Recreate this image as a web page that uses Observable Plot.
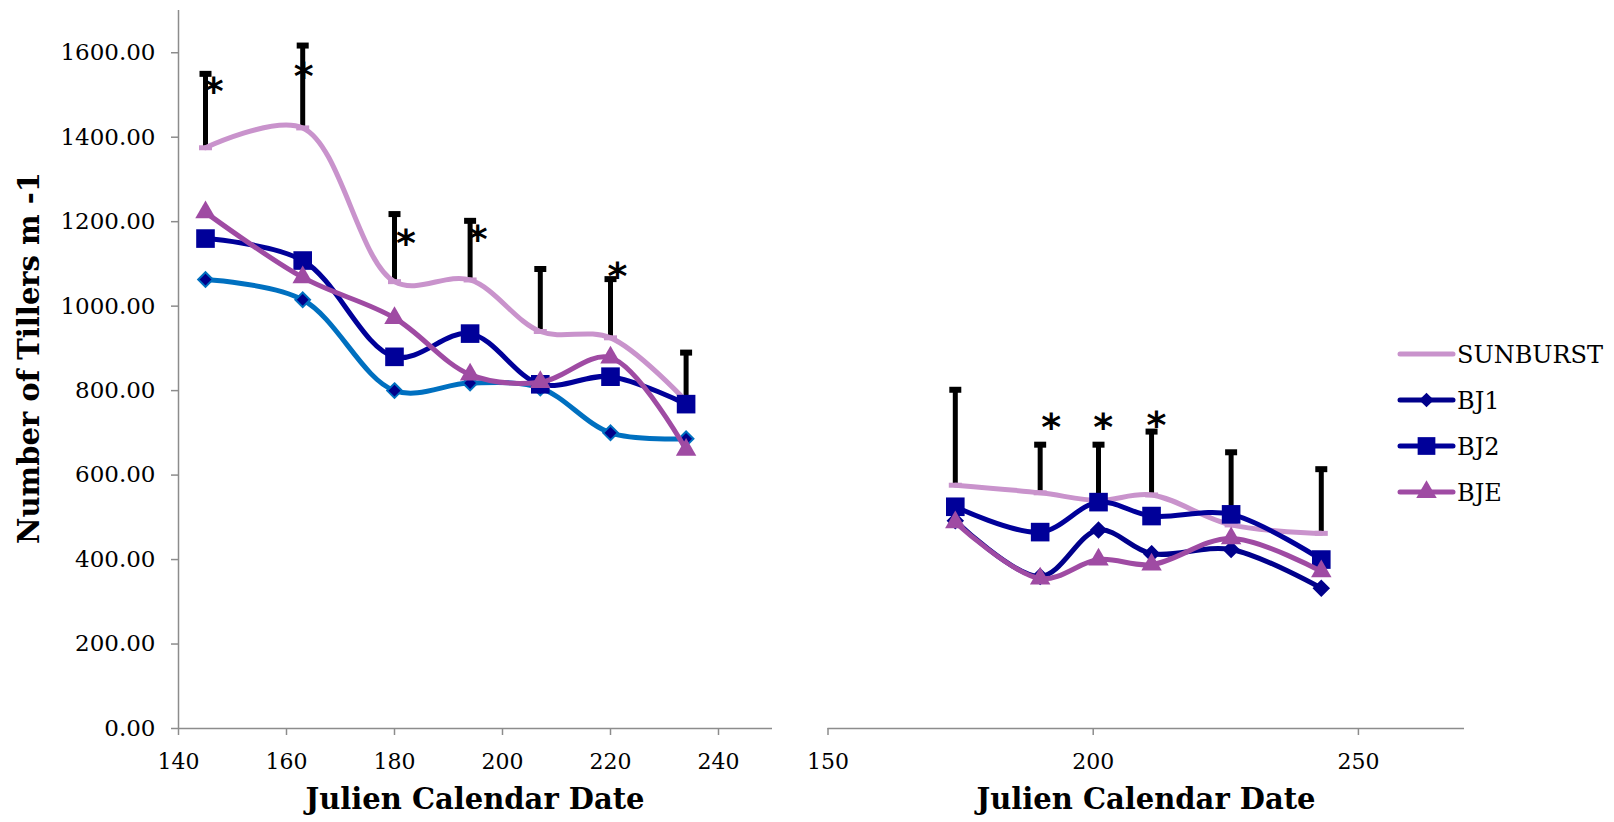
<!DOCTYPE html>
<html>
<head>
<meta charset="utf-8">
<script src="https://cdn.jsdelivr.net/npm/d3@7"></script>
<script src="https://cdn.jsdelivr.net/npm/@observablehq/plot@0.6"></script>
<style>
  html, body { margin: 0; padding: 0; background: #fff; }
  #chart { position: relative; width: 1614px; height: 822px; font-family: "DejaVu Serif", serif; color: #000; }
  #left, #right, #legend { position: absolute; top: 0; }
  #left { left: 0; }
  #right { left: 790px; }
  .xtitle { position: absolute; top: 785px; font-weight: bold; font-size: 29px; line-height: 29px; white-space: nowrap; transform: translateX(-50%); }
  .ytitle { position: absolute; left: 29px; top: 358px; font-weight: bold; font-size: 29px; line-height: 29px; white-space: nowrap; transform: translate(-50%, -50%) rotate(-90deg); }
</style>
</head>
<body>
<div id="chart">
  <div id="left"></div>
  <div id="right"></div>
  <div class="ytitle">Number of Tillers m -1</div>
  <div class="xtitle" style="left:475px">Julien Calendar Date</div>
  <div class="xtitle" style="left:1146px">Julien Calendar Date</div>
  <svg id="legend" width="224" height="180" style="left:1390px;top:330px"></svg>
</div>
<script>
// ---- First sampling period ----
const datesA = [145, 163, 180, 194, 207, 220, 234];
const sunburstA = [1375, 1422, 1058, 1062, 940, 925, 775];
const sunburstErrTopA = [1550, 1617, 1218, 1202, 1088, 1064, 890];
const bj1A = [1063, 1015, 800, 818, 806, 700, 686];
const bj2A = [1160, 1108, 880, 935, 815, 833, 768];
const bjeA = [1222, 1068, 972, 838, 820, 878, 660];
// significance markers (date, height) for the first period
const starDatesA = [146.5, 163.2, 182.1, 195.4, 221.3];
const starHeightsA = [1530, 1566, 1172, 1180, 1092];

// ---- Second sampling period ----
const datesB = [174, 190, 201, 211, 226, 243];
const sunburstB = [576, 558, 540, 553, 482, 462];
const sunburstErrTopB = [802, 672, 672, 703, 654, 614];
const bj1B = [492, 360, 470, 414, 424, 332];
const bj2B = [525, 465, 536, 503, 507, 400];
const bjeB = [488, 355, 400, 388, 450, 372];
const starDatesB = [192.1, 201.9, 211.9];
const starHeightsB = [736, 736, 741];

// ---- Axis ticks ----
const yTicks = [0, 200, 400, 600, 800, 1000, 1200, 1400, 1600];
const xTicksA = [140, 160, 180, 200, 220, 240];
const xTicksB = [150, 200, 250];

const seriesNames = ["SUNBURST", "BJ1", "BJ2", "BJE"];

const colors = {
  SUNBURST: "#c993cc",
  BJ1: "#0070c0",
  BJ1dark: "#00008b",
  BJ2: "#000099",
  BJE: "#9f4ba3",
  axis: "#8c8c8c"
};

// flat bar-shaped symbol (used for caps and dash markers)
const barSymbol = (w, h) => ({ draw(ctx) { ctx.rect(-w / 2, -h / 2, w, h); } });

function panel({dates, sun, errTop, bj1, bj2, bje, starX, starY, xDomain, xTicks, width, marginLeft, marginRight, showY, bj1Line}) {
  const marks = [];
  if (showY) {
    marks.push(Plot.axisY({ticks: yTicks, tickFormat: d3.format(".2f"), tickSize: 7, tickPadding: 16,
      stroke: colors.axis, strokeWidth: 1.5, fill: "#000", fontSize: 23, label: null}));
    marks.push(Plot.ruleX([xDomain[0]], {stroke: colors.axis, strokeWidth: 1.5}));
  }
  marks.push(Plot.axisX({ticks: xTicks, tickSize: 7, tickPadding: 18, stroke: colors.axis, strokeWidth: 1.5,
    fill: "#000", fontSize: 22, label: null}));
  marks.push(Plot.ruleY([0], {stroke: colors.axis, strokeWidth: 1.5}));

  // SUNBURST error bars (upper only, capped)
  marks.push(Plot.ruleX(dates, {x: d => d, y1: (d, i) => sun[i], y2: (d, i) => errTop[i], stroke: "#000", strokeWidth: 5}));
  marks.push(Plot.dot(dates, {x: d => d, y: (d, i) => errTop[i], symbol: barSymbol(12, 6), r: 5, fill: "#000"}));

  // SUNBURST
  marks.push(Plot.line(dates, {x: d => d, y: (d, i) => sun[i], curve: "catmull-rom", stroke: colors.SUNBURST, strokeWidth: 5, strokeLinecap: "round"}));
  marks.push(Plot.dot(dates, {x: d => d, y: (d, i) => sun[i], symbol: barSymbol(13, 5), r: 5, fill: colors.SUNBURST}));

  // BJ1
  marks.push(Plot.line(dates, {x: d => d, y: (d, i) => bj1[i], curve: "catmull-rom", stroke: bj1Line, strokeWidth: 5, strokeLinecap: "round"}));
  marks.push(Plot.dot(dates, {x: d => d, y: (d, i) => bj1[i], symbol: "diamond2", r: 6.6, fill: colors.BJ1dark,
    stroke: bj1Line, strokeWidth: 2}));

  // BJ2
  marks.push(Plot.line(dates, {x: d => d, y: (d, i) => bj2[i], curve: "catmull-rom", stroke: colors.BJ2, strokeWidth: 5, strokeLinecap: "round"}));
  marks.push(Plot.dot(dates, {x: d => d, y: (d, i) => bj2[i], symbol: "square", r: 10.5, fill: colors.BJ2, stroke: "none"}));

  // BJE
  marks.push(Plot.line(dates, {x: d => d, y: (d, i) => bje[i], curve: "catmull-rom", stroke: colors.BJE, strokeWidth: 5, strokeLinecap: "round"}));
  marks.push(Plot.dot(dates, {x: d => d, y: (d, i) => bje[i], symbol: "triangle", r: 7.6, fill: colors.BJE, stroke: "none"}));

  // significance asterisks
  marks.push(Plot.text(starX, {x: d => d, y: (d, i) => starY[i], text: () => "*", fontSize: 38, fontWeight: "bold",
    lineAnchor: "middle", dy: 10, fill: "#000", fontFamily: "DejaVu Sans"}));

  return Plot.plot({
    width, height: 822,
    marginLeft, marginRight, marginTop: 10, marginBottom: 94,
    x: {domain: xDomain},
    y: {domain: [0, 1700], axis: showY ? undefined : null},
    style: {fontFamily: "DejaVu Serif", fontSize: "22px", color: "#000", background: "transparent", overflow: "visible"},
    marks
  });
}

document.getElementById("left").appendChild(panel({
  dates: datesA, sun: sunburstA, errTop: sunburstErrTopA, bj1: bj1A, bj2: bj2A, bje: bjeA,
  starX: starDatesA, starY: starHeightsA,
  xDomain: [140, 250], xTicks: xTicksA, width: 790, marginLeft: 178, marginRight: 18, showY: true,
  bj1Line: colors.BJ1
}));

document.getElementById("right").appendChild(panel({
  dates: datesB, sun: sunburstB, errTop: sunburstErrTopB, bj1: bj1B, bj2: bj2B, bje: bjeB,
  starX: starDatesB, starY: starHeightsB,
  xDomain: [150, 270], xTicks: xTicksB, width: 700, marginLeft: 37.5, marginRight: 26, showY: false,
  bj1Line: colors.BJ1dark
}));

// ---- Legend ----
const legend = d3.select("#legend");
const legendStyle = {
  SUNBURST: {color: colors.SUNBURST, symbol: null},
  BJ1: {color: colors.BJ1dark, symbol: d3.symbol(d3.symbolDiamond2, Math.PI * 6.6 * 6.6)},
  BJ2: {color: colors.BJ2, symbol: d3.symbol(d3.symbolSquare, Math.PI * 10 * 10)},
  BJE: {color: colors.BJE, symbol: d3.symbol(d3.symbolTriangle, Math.PI * 7.6 * 7.6)}
};
seriesNames.forEach((name, i) => {
  const cy = 24 + i * 46;
  const s = legendStyle[name];
  const g = legend.append("g");
  g.append("line").attr("x1", 10).attr("x2", 63).attr("y1", cy).attr("y2", cy)
    .attr("stroke", s.color).attr("stroke-width", 5).attr("stroke-linecap", "round");
  if (s.symbol) {
    g.append("path").attr("d", s.symbol()).attr("transform", `translate(36.5,${cy})`).attr("fill", s.color);
  }
  g.append("text").attr("x", 67).attr("y", cy + 8.7).attr("font-family", "DejaVu Serif")
    .attr("font-size", 24).attr("fill", "#000").text(name);
});
</script>
</body>
</html>
